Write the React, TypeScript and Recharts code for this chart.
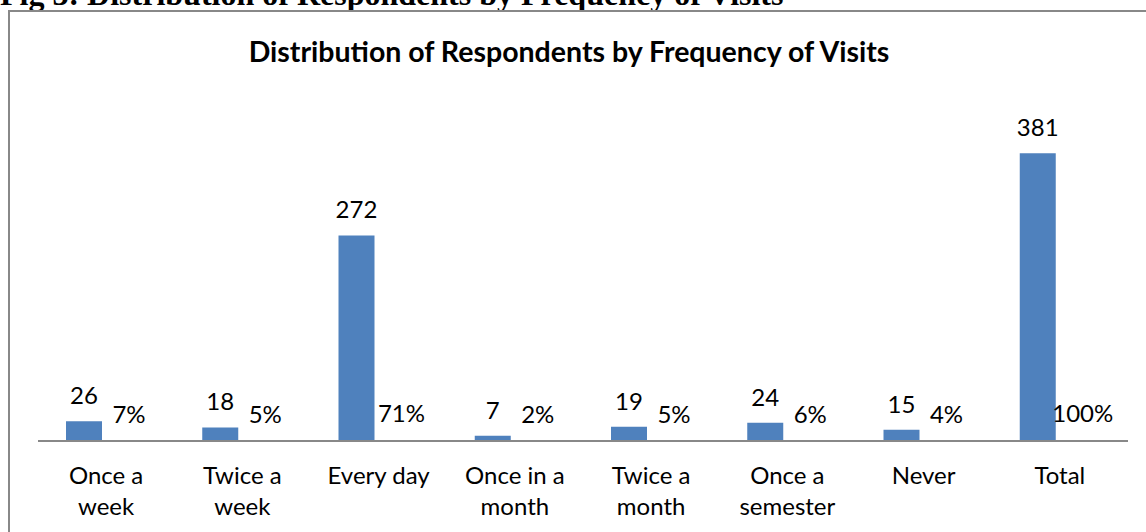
import React from "react";
import { BarChart, Bar, XAxis, YAxis, LabelList } from "recharts";

const FONT = "Lato, 'Open Sans', sans-serif";
const BLUE = "#4F81BD";
const RED = "#C0504D";
const AXIS_GRAY = "#888888";

const categories = [
  "Once a week",
  "Twice a week",
  "Every day",
  "Once in a month",
  "Twice a month",
  "Once a semester",
  "Never",
  "Total",
];
const tickLines = [
  ["Once a", "week"],
  ["Twice a", "week"],
  ["Every day"],
  ["Once in a", "month"],
  ["Twice a", "month"],
  ["Once a", "semester"],
  ["Never"],
  ["Total"],
];
const respondents = [26, 18, 272, 7, 19, 24, 15, 381];
const shares = [0.07, 0.05, 0.71, 0.02, 0.05, 0.06, 0.04, 1.0];

const data = categories.map((c, i) => ({
  name: c,
  count: respondents[i],
  share: shares[i],
}));

const pct = (v: any) => `${Math.round(Number(v) * 100)}%`;

// two-line category labels, like the spreadsheet wraps them
function CategoryTick(props: any) {
  const { x, y, index } = props;
  const lines = tickLines[index] || [];
  return (
    <text x={x} y={y} textAnchor="middle" fontFamily={FONT} fontSize={24} fill="#000">
      {lines.map((l, i) => (
        <tspan key={i} x={x} y={y + 43 + i * 31}>
          {l}
        </tspan>
      ))}
    </text>
  );
}

export default function App() {
  return (
    <div
      style={{
        position: "fixed",
        left: 0,
        top: 0,
        width: 1146,
        height: 532,
        overflow: "hidden",
        background: "#fff",
      }}
    >
      <svg width={1146} height={532} style={{ position: "absolute", left: 0, top: 0 }}>
        <text
          x={0}
          y={5}
          fontFamily="'Liberation Serif', 'Times New Roman', serif"
          fontWeight="bold"
          fontSize={32}
          fill="#000"
        >
          Fig 3: Distribution of Respondents by Frequency of Visits
        </text>
        <rect x={8} y={10} width={1140} height={2} fill={AXIS_GRAY} />
        <rect x={8} y={10} width={2} height={530} fill={AXIS_GRAY} />
        <text
          x={569}
          y={62}
          textAnchor="middle"
          fontFamily={FONT}
          fontWeight="bold"
          fontSize={28.5}
          fill="#000"
        >
          Distribution of Respondents by Frequency of Visits
        </text>
      </svg>
      <div style={{ position: "absolute", left: 0, top: 0 }}>
        <BarChart
          width={1146}
          height={532}
          data={data}
          margin={{ top: 101, right: 18, left: 38, bottom: 0 }}
          barSize={36}
          barGap={9}
        >
          <XAxis
            dataKey="name"
            height={91}
            interval={0}
            tickLine={false}
            tickSize={0}
            tickMargin={0}
            axisLine={{ stroke: AXIS_GRAY, strokeWidth: 2 }}
            tick={<CategoryTick />}
          />
          <YAxis hide domain={[0, 450]} />
          <Bar dataKey="count" fill={BLUE} isAnimationActive={false}>
            <LabelList
              dataKey="count"
              position="top"
              offset={17}
              fontFamily={FONT}
              fontSize={24}
              fill="#000"
            />
          </Bar>
          <Bar dataKey="share" fill={RED} isAnimationActive={false}>
            <LabelList
              dataKey="share"
              position="top"
              offset={18}
              formatter={pct}
              fontFamily={FONT}
              fontSize={24}
              fill="#000"
            />
          </Bar>
        </BarChart>
      </div>
    </div>
  );
}
